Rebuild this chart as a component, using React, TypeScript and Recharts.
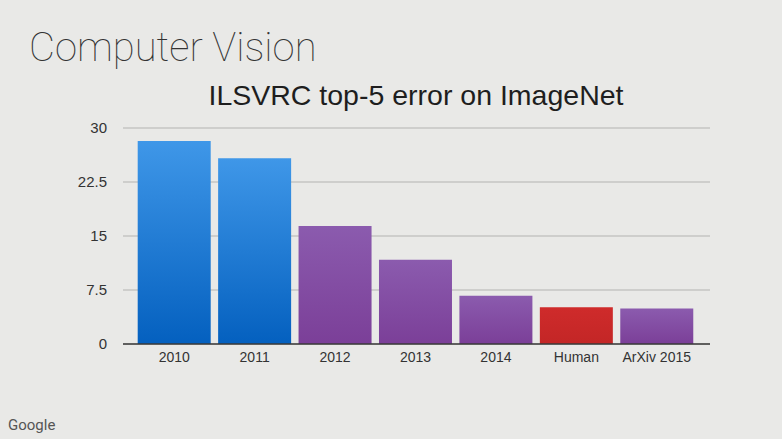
import { BarChart, Bar, XAxis, YAxis, CartesianGrid, Cell } from "recharts";

const categories = ["2010", "2011", "2012", "2013", "2014", "Human", "ArXiv 2015"];
const errorRates = [28.2, 25.8, 16.4, 11.7, 6.7, 5.1, 4.94];
const kinds = ["classic", "classic", "deep", "deep", "deep", "human", "deep"];
const yTicks = [0, 7.5, 15, 22.5, 30];

const fills: Record<string, string> = {
  classic: "url(#gradBlue)",
  deep: "url(#gradPurple)",
  human: "url(#gradRed)",
};

const data = categories.map((name, i) => ({ name, value: errorRates[i], kind: kinds[i] }));

export default function App() {
  return (
    <div
      style={{
        position: "absolute",
        left: 0,
        top: 0,
        width: 782,
        height: 439,
        background: "#e9e9e7",
        overflow: "hidden",
        fontFamily: "'Liberation Sans', Arial, sans-serif",
      }}
    >
      <div
        style={{
          position: "absolute",
          left: 29,
          top: 24,
          fontFamily: "Roboto, 'Open Sans', sans-serif",
          fontWeight: 100,
          fontSize: 40,
          color: "#333",
          whiteSpace: "nowrap",
        }}
      >
        Computer Vision
      </div>
      <div
        style={{
          position: "absolute",
          left: 0,
          width: 832,
          top: 79,
          textAlign: "center",
          fontSize: 28.5,
          color: "#1e1e1e",
          whiteSpace: "nowrap",
        }}
      >
        ILSVRC top-5 error on ImageNet
      </div>
      <div
        style={{
          position: "absolute",
          left: 8,
          top: 416,
          fontFamily: "Roboto, 'Open Sans', sans-serif",
          fontSize: 15,
          color: "#555",
        }}
      >
        Google
      </div>
      <BarChart
        width={782}
        height={439}
        data={data}
        margin={{ top: 128, right: 72, bottom: 65, left: 83 }}
        barCategoryGap="4.6%"
        style={{ position: "absolute", left: 0, top: 0 }}
      >
        <defs>
          <linearGradient id="gradBlue" x1="0" y1="0" x2="0" y2="1">
            <stop offset="0%" stopColor="#3f97e8" />
            <stop offset="100%" stopColor="#0460bf" />
          </linearGradient>
          <linearGradient id="gradPurple" x1="0" y1="0" x2="0" y2="1">
            <stop offset="0%" stopColor="#8b5bae" />
            <stop offset="100%" stopColor="#7b3f98" />
          </linearGradient>
          <linearGradient id="gradRed" x1="0" y1="0" x2="0" y2="1">
            <stop offset="0%" stopColor="#cf2b2b" />
            <stop offset="100%" stopColor="#c32626" />
          </linearGradient>
        </defs>
        <CartesianGrid horizontal vertical={false} stroke="#b3b3b1" strokeWidth={1} />
        <XAxis
          dataKey="name"
          height={30}
          interval={0}
          padding={{ left: 11, right: 13 }}
          axisLine={{ stroke: "#3a3a3a", strokeWidth: 1.5 }}
          tickLine={false}
          tickSize={0}
          tickMargin={8}
          tick={{ fill: "#333", fontSize: 14 }}
        />
        <YAxis
          width={40}
          domain={[0, 30]}
          ticks={yTicks}
          axisLine={false}
          tickLine={false}
          tickSize={0}
          tickMargin={16}
          tick={{ fill: "#333", fontSize: 15 }}
        />
        <Bar dataKey="value" isAnimationActive={false}>
          {data.map((d, i) => (
            <Cell key={i} fill={fills[d.kind]} />
          ))}
        </Bar>
      </BarChart>
    </div>
  );
}
